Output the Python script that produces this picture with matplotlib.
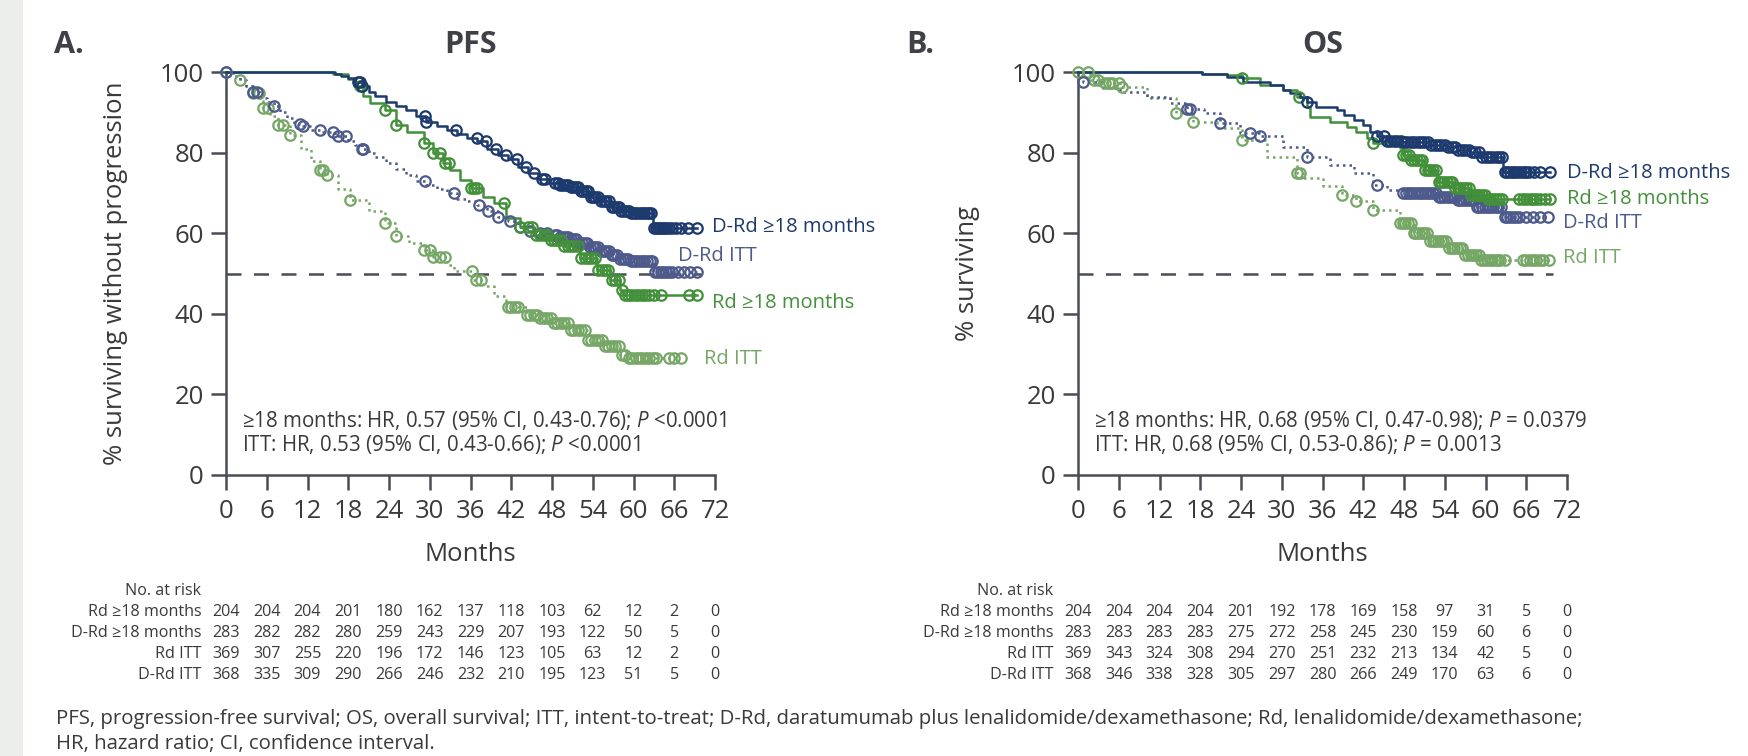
import numpy as np
import matplotlib
matplotlib.use("Agg")
import matplotlib.pyplot as plt
from matplotlib.patches import Rectangle
from matplotlib.transforms import blended_transform_factory

plt.rcParams["font.family"] = ["Open Sans", "DejaVu Sans"]
plt.rcParams["mathtext.fontset"] = "custom"
plt.rcParams["mathtext.rm"] = "Open Sans"
plt.rcParams["mathtext.it"] = "Open Sans:italic"

NAVY = "#1d3a6e"
SLATE = "#4d5a8b"
GREEN = "#43903a"
LIGHT = "#76a766"
AXC = "#4a4c55"
TXT = "#3a3a3a"

months_ticks = [0, 6, 12, 18, 24, 30, 36, 42, 48, 54, 60, 66, 72]

# ---- PFS (panel A) ----
pfs_drd18_t = [0, 16, 17, 18, 19, 20, 21, 22, 23.5, 25, 26.5, 28, 29.5, 31, 32.5, 34, 35.5, 37, 38.5,
               40, 41.5, 43, 44.5, 46, 47.5, 49, 50.5, 52, 53.5, 55, 56.5, 58, 59.5, 62.9]
pfs_drd18_s = [100, 99.5, 99, 98.5, 97.5, 96.5, 95, 94, 92.5, 91.5, 90.5, 89, 87.5, 86.5, 85.5, 84.5, 83.5,
               83, 81, 79.5, 78.5, 76.5, 75, 73.5, 72.5, 72, 71.5, 70.5, 69, 68, 66.5, 65.5, 65, 61.4]
pfs_drd18_c = [19.5, 19.8, 20.0, 29.3, 29.5, 33.9, 36.9, 38.3, 39.8, 41.2, 42.8, 44.2, 45.3, 46.6, 47.0,
               48.5, 48.9, 49.2, 49.6, 50.0, 50.4, 50.8, 51.1, 51.5, 51.9, 52.2, 52.6, 53.0, 53.3, 53.7,
               54.0, 54.4, 54.8, 55.2, 55.6, 56.0, 56.4, 56.8, 57.1, 57.5, 57.9, 58.2, 58.6, 59.0, 59.4,
               59.7, 60.1, 60.4, 60.8, 61.2, 61.6, 62.0, 62.3, 62.6, 63.0, 63.3, 63.6, 63.9, 64.2, 64.5,
               64.8, 65.2, 65.6, 66.2, 67.0, 68.0, 69.3]

pfs_drditt_t = [0, 1, 2, 3, 4, 5, 6, 7, 8, 9, 10, 11, 12.5, 14, 16, 18, 19, 20, 21, 22, 23.5, 25, 26.5,
                28, 29.5, 31, 32.5, 34, 35.5, 37, 38.5, 40, 41.5, 43, 44.5, 46, 47.5, 49, 50.5, 52,
                53.5, 55, 56.5, 58, 59.5, 62.9]
pfs_drditt_s = [100, 99, 98, 96.5, 95, 93.5, 92.5, 91.5, 90, 88.5, 87, 86.5, 85.5, 85, 84, 83, 82, 81,
                80, 79, 77.5, 76, 74.5, 73, 72, 71, 70, 68.5, 68, 67, 65.5, 64, 63, 61.5, 60.5, 60,
                59.5, 59, 58.5, 57.5, 56.5, 55.5, 54.5, 53.5, 53, 50.3]
pfs_drditt_c = [0, 4.0, 4.5, 7.0, 10.9, 11.4, 13.8, 15.8, 16.5, 17.7, 20.0, 20.2, 29.3, 33.5, 37.2,
                38.6, 40.1, 41.8, 43.3, 44.8, 46.2, 47.2, 48.4, 48.8, 49.2, 49.6, 50.0, 50.4, 50.8,
                51.2, 51.6, 52.0, 52.4, 52.8, 53.2, 53.6, 54.0, 54.4, 54.8, 55.2, 55.6, 56.0, 56.4,
                56.8, 57.2, 57.6, 58.0, 58.4, 58.8, 59.2, 59.6, 60.0, 60.4, 60.8, 61.2, 61.6, 62.0,
                62.4, 62.7, 63.2, 63.6, 64.0, 64.4, 64.8, 65.2, 65.6, 66.5, 67.5, 68.3, 69.3]

pfs_rd18_t = [0, 15.8, 18, 18.8, 20.2, 21.2, 23.4, 25.1, 26.6, 29.1, 30.5, 32.0, 33.0, 34.5, 36.0,
              37.9, 39.4, 41.3, 43.3, 45.3, 47.7, 49.7, 52.1, 54.6, 56.5, 58.0, 58.5]
pfs_rd18_s = [100, 99.5, 98.3, 96.6, 94.1, 92.3, 90.6, 86.9, 85.2, 82.3, 79.8, 77.3, 75.7, 73.2, 71.1,
              69.1, 67.4, 63.7, 61.6, 59.6, 58.3, 56.7, 53.8, 50.9, 48.4, 45.9, 44.6]
pfs_rd18_c = [19.7, 23.4, 25.1, 29.1, 30.5, 31.5, 32.3, 32.8, 36.0, 36.5, 37.0, 41.0, 43.3, 44.4,
              45.0, 45.6, 46.2, 46.8, 47.3, 47.8, 48.3, 48.8, 49.3, 49.8, 50.3, 50.8, 51.3, 51.8,
              52.3, 52.8, 53.3, 53.8, 54.3, 54.8, 55.3, 55.8, 56.3, 56.8, 57.3, 57.8, 58.3, 58.8,
              59.2, 59.7, 60.2, 60.7, 61.2, 61.7, 62.3, 63.0, 64.0, 68.2, 69.3]

pfs_rditt_t = [0, 1, 2.1, 3, 4.0, 5.5, 6.5, 7.7, 9.4, 11, 12.5, 13.8, 14.8, 16.5, 18.3, 21, 23.4,
               25.1, 27, 29.1, 30.5, 32.5, 33.5, 36.4, 37.9, 39.5, 41.3, 44.3, 46.2, 48.2, 50.7,
               53.1, 55.6, 58.0, 59.0]
pfs_rditt_s = [100, 99, 98, 96.5, 94.7, 91, 89, 86.9, 84.4, 81, 78, 75.7, 74.5, 71, 68.3, 65.5, 62.5,
               59.2, 57.5, 55.8, 54.2, 52.1, 50.5, 48.4, 46.8, 44.5, 41.8, 39.8, 38.9, 37.7, 36.0,
               33.5, 31.9, 29.8, 29.0]
pfs_rditt_c = [0, 2.1, 4.0, 4.8, 5.5, 6.2, 7.7, 8.4, 9.4, 13.8, 14.3, 14.8, 18.3, 23.4, 25.1, 29.1,
               30.0, 30.5, 31.5, 32.3, 36.2, 36.8, 37.5, 41.5, 42.0, 42.5, 43.0, 44.3, 44.8, 45.3,
               45.8, 46.3, 46.8, 47.3, 47.8, 48.3, 48.8, 49.3, 49.8, 50.3, 50.8, 51.3, 51.8, 52.3,
               52.8, 53.3, 53.8, 54.3, 54.8, 55.3, 55.8, 56.3, 56.8, 57.3, 57.8, 58.3, 58.8, 59.3,
               59.8, 60.3, 60.8, 61.3, 61.8, 62.3, 62.8, 63.3, 65.3, 66.0, 67.0]

# ---- OS (panel B) ----
os_drd18_t = [0, 18.2, 21.9, 24.3, 28.3, 30.2, 31.2, 32.7, 33.7, 35.1, 38.1, 39.1, 40.6, 42.0, 43.0,
              44.0, 45.5, 47.9, 51.8, 54.3, 55.8, 57.7, 59.2, 62.6]
os_drd18_s = [100, 99.5, 98.8, 97.6, 96.8, 95.5, 94.7, 93.9, 92.6, 91.4, 90.6, 89.3, 88.1, 86.9, 85.2,
              84.2, 83.0, 82.7, 81.9, 81.5, 80.6, 80.2, 79.0, 75.3]
os_drd18_c = [33.7, 44.0, 45.0, 45.5, 46.0, 46.5, 47.0, 47.5, 48.0, 48.5, 49.0, 49.5, 50.0, 50.5,
              51.0, 51.5, 52.0, 52.5, 53.0, 53.5, 54.0, 54.5, 55.0, 55.5, 56.0, 56.5, 57.0, 57.5,
              58.0, 58.5, 59.0, 59.5, 60.0, 60.5, 61.0, 61.5, 62.0, 62.4, 62.8, 63.2, 63.6, 64.0,
              64.4, 64.8, 65.2, 65.6, 66.0, 66.4, 67.2, 68.0, 69.5]

os_rd18_t = [0, 18.2, 21.9, 24.1, 26.8, 30.2, 32.2, 33.7, 34.2, 37.1, 39.6, 41.0, 42.5, 43.5, 46.4,
             47.4, 47.9, 48.9, 50.9, 52.8, 55.3, 57.7, 60.1]
os_rd18_s = [100, 99.6, 99.2, 98.4, 96.8, 95.5, 93.9, 91.4, 88.9, 87.7, 86.4, 85.2, 83.5, 82.3, 82.3,
             81.1, 79.4, 78.2, 75.7, 72.8, 71.1, 69.5, 68.6]
os_rd18_c = [24.1, 32.5, 43.5, 47.9, 48.3, 48.7, 49.1, 49.5, 49.9, 50.3, 50.7, 51.1, 51.5, 51.9,
             52.3, 52.7, 53.1, 53.5, 53.9, 54.3, 54.7, 55.1, 55.5, 55.9, 56.3, 56.7, 57.1, 57.5,
             57.9, 58.3, 58.7, 59.1, 59.5, 59.9, 60.3, 60.7, 61.1, 61.5, 62.0, 62.5, 65.0, 65.5,
             66.0, 66.5, 67.0, 67.5, 68.0, 68.8, 69.5]

os_drditt_t = [0, 0.8, 3.7, 6.2, 10.1, 13.5, 16.0, 18.5, 20.9, 23.9, 26.8, 30.2, 33.7, 37.1, 40.6,
               43.5, 45.5, 47.9, 52.8, 55.8, 58.7, 62.6]
os_drditt_s = [100, 97.6, 96.0, 95.1, 93.9, 92.3, 90.8, 89.8, 87.3, 84.8, 84.0, 81.5, 79.0, 76.9, 74.9,
               72.0, 70.7, 69.9, 69.1, 68.3, 66.6, 64.1]
os_drditt_c = [0.8, 16.0, 16.5, 20.9, 25.3, 26.8, 33.7, 44.0, 47.9, 48.3, 48.7, 49.1, 49.5, 49.9,
               50.3, 50.7, 51.1, 51.5, 51.9, 52.3, 52.7, 53.1, 53.5, 53.9, 54.3, 54.7, 55.1, 55.5,
               55.9, 56.3, 56.7, 57.1, 57.5, 57.9, 58.3, 58.7, 59.1, 59.5, 59.9, 60.3, 60.7, 61.1,
               61.5, 61.9, 62.3, 62.8, 63.2, 63.6, 64.0, 64.5, 65.0, 66.0, 67.0, 68.0, 69.2]

os_rditt_t = [0, 1.8, 3.7, 6.2, 10.1, 14.5, 17.0, 20.4, 24.1, 27.8, 32.2, 33.2, 36.1, 38.8, 41.0,
              43.5, 47.4, 49.4, 51.8, 54.3, 56.8, 59.2]
os_rditt_s = [100, 98, 97.2, 96.4, 93.5, 89.8, 87.7, 86.1, 83.1, 79.0, 74.9, 73.7, 71.6, 69.5, 67.9,
              65.8, 62.5, 60.0, 58.0, 56.3, 54.7, 53.4]
os_rditt_c = [0, 1.5, 2.3, 3.0, 4.0, 4.5, 5.0, 6.0, 6.5, 14.5, 17.0, 24.1, 32.2, 32.7, 38.8, 41.0,
              43.5, 47.4, 47.8, 48.2, 48.6, 49.0, 49.4, 49.8, 50.2, 50.6, 51.0, 51.4, 51.8, 52.2,
              52.6, 53.0, 53.4, 53.8, 54.2, 54.6, 55.0, 55.4, 55.8, 56.2, 56.6, 57.0, 57.4, 57.8,
              58.2, 58.6, 59.0, 59.4, 59.8, 60.2, 60.6, 61.0, 61.4, 61.8, 62.2, 62.8, 65.5, 66.0,
              66.5, 67.0, 67.5, 68.0, 68.5, 69.3]

# ---- number at risk ----
risk_rows = ["Rd \u226518 months", "D-Rd \u226518 months", "Rd ITT", "D-Rd ITT"]
pfs_risk = [
    [204, 204, 204, 201, 180, 162, 137, 118, 103, 62, 12, 2, 0],
    [283, 282, 282, 280, 259, 243, 229, 207, 193, 122, 50, 5, 0],
    [369, 307, 255, 220, 196, 172, 146, 123, 105, 63, 12, 2, 0],
    [368, 335, 309, 290, 266, 246, 232, 210, 195, 123, 51, 5, 0],
]
os_risk = [
    [204, 204, 204, 204, 201, 192, 178, 169, 158, 97, 31, 5, 0],
    [283, 283, 283, 283, 275, 272, 258, 245, 230, 159, 60, 6, 0],
    [369, 343, 324, 308, 294, 270, 251, 232, 213, 134, 42, 5, 0],
    [368, 346, 338, 328, 305, 297, 280, 266, 249, 170, 63, 6, 0],
]

pfs_hr = ["\u226518 months: HR, 0.57 (95% CI, 0.43-0.76); $\\mathit{P}$ <0.0001",
          "ITT: HR, 0.53 (95% CI, 0.43-0.66); $\\mathit{P}$ <0.0001"]
os_hr = ["\u226518 months: HR, 0.68 (95% CI, 0.47-0.98); $\\mathit{P}$ = 0.0379",
         "ITT: HR, 0.68 (95% CI, 0.53-0.86); $\\mathit{P}$ = 0.0013"]


def km(ax, t, s, cens, color, dotted):
    t = np.asarray(t, float)
    s = np.asarray(s, float)
    end = max(max(cens), t[-1])
    ls = (0, (1, 1.6)) if dotted else "-"
    ax.step(np.append(t, end), np.append(s, s[-1]), where="post", color=color, lw=1.8,
            ls=ls, clip_on=False, zorder=3)
    c = np.asarray(cens, float)
    cy = s[np.searchsorted(t, c, side="right") - 1]
    ax.plot(c, cy, ls="none", marker="o", ms=7.5, mfc="none", mec=color, mew=1.6,
            clip_on=False, zorder=4)


def panel(ax, letter, title, ylabel, curves, labels, hr, risk):
    for t, s, c, col, dotted in curves:
        km(ax, t, s, c, col, dotted)
    ax.plot([0, 70], [50, 50], color=AXC, lw=1.8, ls=(0, (6, 5)), zorder=2)
    ax.set_xlim(0, 72)
    ax.set_ylim(0, 100)
    ax.set_xticks(months_ticks)
    ax.set_yticks([0, 20, 40, 60, 80, 100])
    for sp in ("top", "right"):
        ax.spines[sp].set_visible(False)
    for sp in ("left", "bottom"):
        ax.spines[sp].set_color(AXC)
        ax.spines[sp].set_linewidth(1.8)
    ax.tick_params(colors=AXC, labelcolor=TXT, labelsize=18.5, length=11, width=1.8)
    ax.tick_params(axis="x", pad=6.5)
    ax.tick_params(axis="y", pad=5)
    ax.set_xlabel("Months", fontsize=18.5, color=TXT, labelpad=13)
    ax.set_ylabel(ylabel, fontsize=18.5, color=TXT)
    ax.yaxis.set_label_coords(-0.2, 0.5)
    ax.text(0.5, 1.066, title, transform=ax.transAxes, fontsize=22, fontweight="bold",
            color="#404048", ha="center", va="center")
    ax.text(-0.352, 1.066, letter, transform=ax.transAxes, fontsize=22, fontweight="bold",
            color="#404048", va="center")
    for txt, x, y, col in labels:
        ax.text(x, y, txt, color=col, fontsize=14.5, va="center", ha="left")
    ax.text(2.4, 13.5, hr[0], fontsize=14.8, color=TXT, va="center")
    ax.text(2.4, 7.5, hr[1], fontsize=14.8, color=TXT, va="center")

    tr = blended_transform_factory(ax.transData, fig.transFigure)
    ys = [1 - 591 / 756, 1 - 612 / 756, 1 - 633 / 756, 1 - 654 / 756, 1 - 675 / 756]
    ax.text(-3.6, ys[0], "No. at risk", transform=tr, ha="right", va="center", fontsize=11.6, color=TXT)
    for name, row, y in zip(risk_rows, risk, ys[1:]):
        ax.text(-3.6, y, name, transform=tr, ha="right", va="center", fontsize=11.6, color=TXT)
        for m, v in zip(months_ticks, row):
            ax.text(m, y, str(v), transform=tr, ha="center", va="center", fontsize=11.6, color=TXT)


fig = plt.figure(figsize=(17.48, 7.56), dpi=100)
fig.patches.append(Rectangle((0, 0), 23 / 1748, 1, transform=fig.transFigure,
                             facecolor="#eceeec", edgecolor="none"))

ax1 = fig.add_axes([226 / 1748, 1 - 475 / 756, 489 / 1748, 403 / 756])
ax2 = fig.add_axes([1078 / 1748, 1 - 475 / 756, 489 / 1748, 403 / 756])

panel(ax1, "A.", "PFS", "% surviving without progression",
      [(pfs_rditt_t, pfs_rditt_s, pfs_rditt_c, LIGHT, True),
       (pfs_drditt_t, pfs_drditt_s, pfs_drditt_c, SLATE, True),
       (pfs_rd18_t, pfs_rd18_s, pfs_rd18_c, GREEN, False),
       (pfs_drd18_t, pfs_drd18_s, pfs_drd18_c, NAVY, False)],
      [("D-Rd \u226518 months", 71.6, 61.6, NAVY), ("D-Rd ITT", 66.6, 54.3, SLATE),
       ("Rd \u226518 months", 71.6, 42.8, GREEN), ("Rd ITT", 70.4, 28.8, LIGHT)],
      pfs_hr, pfs_risk)

panel(ax2, "B.", "OS", "% surviving",
      [(os_rditt_t, os_rditt_s, os_rditt_c, LIGHT, True),
       (os_drditt_t, os_drditt_s, os_drditt_c, SLATE, True),
       (os_rd18_t, os_rd18_s, os_rd18_c, GREEN, False),
       (os_drd18_t, os_drd18_s, os_drd18_c, NAVY, False)],
      [("D-Rd \u226518 months", 72.0, 74.9, NAVY), ("Rd \u226518 months", 72.0, 68.5, GREEN),
       ("D-Rd ITT", 71.4, 62.5, SLATE), ("Rd ITT", 71.4, 53.8, LIGHT)],
      os_hr, os_risk)

fig.text(56 / 1748, 1 - 719 / 756,
         "PFS, progression-free survival; OS, overall survival; ITT, intent-to-treat; D-Rd, daratumumab "
         "plus lenalidomide/dexamethasone; Rd, lenalidomide/dexamethasone;",
         fontsize=14.7, color=TXT, va="center")
fig.text(56 / 1748, 1 - 744 / 756, "HR, hazard ratio; CI, confidence interval.",
         fontsize=14.7, color=TXT, va="center")

fig.savefig("out.png", dpi=100)
